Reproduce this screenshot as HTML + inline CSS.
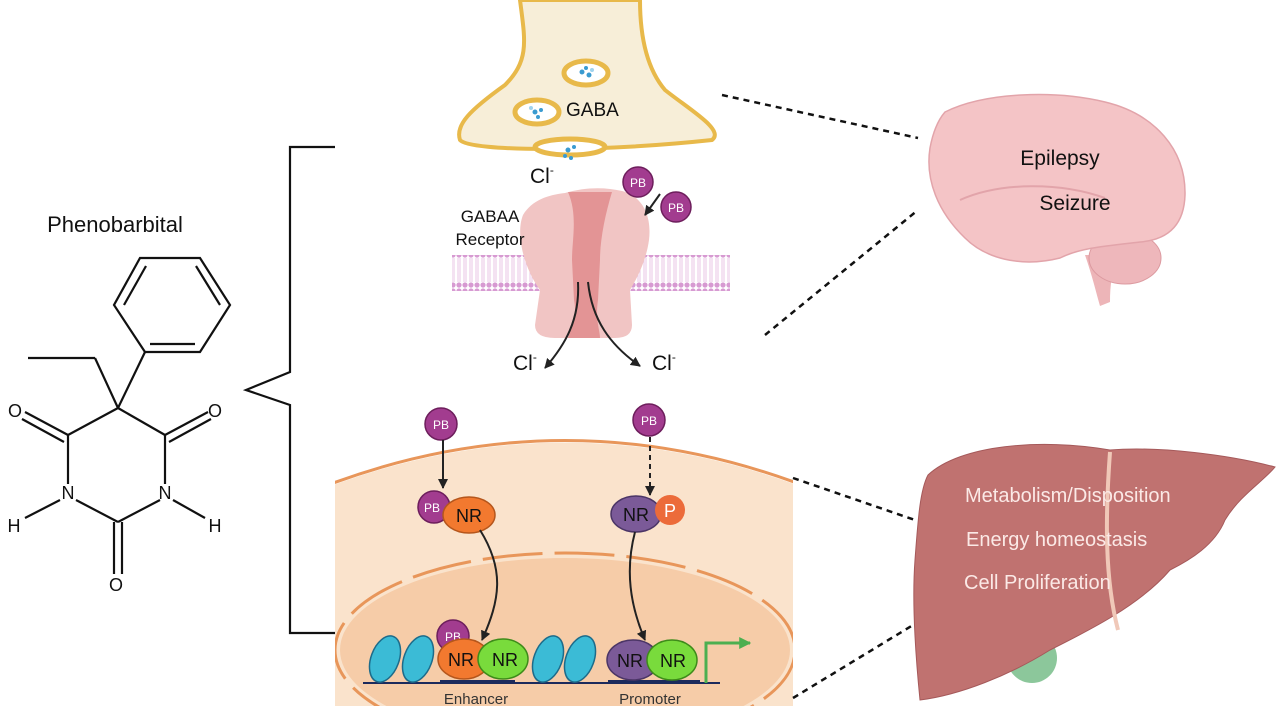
<!DOCTYPE html>
<html><head><meta charset="utf-8"><style>
html,body{margin:0;padding:0;background:#fff;overflow:hidden;width:1280px;height:706px;}
svg{display:block;font-family:"Liberation Sans",sans-serif;}
</style></head><body>
<svg width="1280" height="706" viewBox="0 0 1280 706" xmlns="http://www.w3.org/2000/svg">
<defs>
<marker id="ah" viewBox="0 0 10 10" refX="9" refY="5" markerWidth="5" markerHeight="5" orient="auto"><path d="M0,0 L10,5 L0,10 z" fill="#222"/></marker>
<marker id="ahg" viewBox="0 0 10 10" refX="9" refY="5" markerWidth="4" markerHeight="4" orient="auto"><path d="M0,0 L10,5 L0,10 z" fill="#4caf50"/></marker>
<pattern id="mem" width="6" height="36" patternUnits="userSpaceOnUse">
<circle cx="3" cy="3" r="2.6" fill="#d79ad2"/><circle cx="3" cy="33" r="2.6" fill="#d79ad2"/>
<line x1="2" y1="6" x2="2" y2="30" stroke="#e3b5df" stroke-width="0.8"/><line x1="4" y1="6" x2="4" y2="30" stroke="#e3b5df" stroke-width="0.8"/>
</pattern>
<clipPath id="cell"><rect x="335" y="430" width="458" height="276"/></clipPath>
</defs>

<!-- Phenobarbital -->
<text x="115" y="232" font-size="22" text-anchor="middle" fill="#111">Phenobarbital</text>
<g stroke="#111" stroke-width="2.2" fill="none">
<polygon points="145,352 114,305 140,258 200,258 230,305 200,352"/>
<line x1="150" y1="344" x2="195" y2="344"/><line x1="124" y1="305" x2="146" y2="266"/><line x1="220" y1="305" x2="196" y2="266"/>
<line x1="145" y1="352" x2="118" y2="408"/>
<line x1="118" y1="408" x2="95" y2="358"/><line x1="95" y1="358" x2="28" y2="358"/>
<line x1="118" y1="408" x2="165" y2="435"/><line x1="165" y1="435" x2="165" y2="484"/>
<line x1="160" y1="500" x2="118" y2="522"/><line x1="118" y1="522" x2="76" y2="500"/>
<line x1="68" y1="484" x2="68" y2="435"/><line x1="68" y1="435" x2="118" y2="408"/>
<line x1="165" y1="435" x2="208" y2="412"/><line x1="169" y1="442" x2="211" y2="419"/>
<line x1="68" y1="435" x2="25" y2="412"/><line x1="64" y1="442" x2="22" y2="419"/>
<line x1="114" y1="522" x2="114" y2="574"/><line x1="122" y1="522" x2="122" y2="574"/>
<line x1="60" y1="500" x2="25" y2="518"/><line x1="173" y1="500" x2="205" y2="518"/>
</g>
<g font-size="18" fill="#111" text-anchor="middle">
<text x="68" y="499">N</text><text x="165" y="499">N</text>
<text x="15" y="417">O</text><text x="215" y="417">O</text><text x="116" y="591">O</text>
<text x="14" y="532">H</text><text x="215" y="532">H</text>
</g>

<!-- bracket -->
<polyline points="335,147 290,147 290,372 246,390 290,405 290,633 335,633" fill="none" stroke="#111" stroke-width="2.2"/>

<!-- presynaptic terminal -->
<path d="M520,0 C525,40 530,60 505,85 C470,110 455,125 460,140 C470,152 600,152 712,140 C725,130 690,110 665,90 C648,70 640,40 640,0 Z" fill="#f7eed8" stroke="#e8b94a" stroke-width="4"/>
<ellipse cx="586" cy="73" rx="22" ry="12" fill="#fff" stroke="#e8b94a" stroke-width="5"/>
<ellipse cx="537" cy="112" rx="22" ry="12" fill="#fff" stroke="#e8b94a" stroke-width="5"/>
<ellipse cx="570" cy="147" rx="35" ry="8" fill="#fff" stroke="#e8b94a" stroke-width="5"/>
<g fill="#3a9bd0"><circle cx="582" cy="72" r="2.5"/><circle cx="589" cy="75" r="2.5"/><circle cx="586" cy="68" r="2"/><circle cx="592" cy="70" r="2" fill="#9fd3ee"/><circle cx="535" cy="112" r="2.5"/><circle cx="541" cy="110" r="2"/><circle cx="538" cy="117" r="2"/><circle cx="531" cy="108" r="2" fill="#9fd3ee"/><circle cx="568" cy="150" r="2.5"/><circle cx="574" cy="147" r="2"/><circle cx="565" cy="156" r="2"/><circle cx="571" cy="158" r="2"/></g>
<text x="566" y="116" font-size="19" fill="#111">GABA</text>

<!-- membrane -->
<rect x="452" y="255" width="278" height="36" fill="url(#mem)"/>
<!-- receptor -->
<path d="M565,193 C585,187 605,187 622,191 C642,196 652,215 649,240 C646,262 636,280 630,290 L632,325 Q632,338 615,338 L555,338 Q535,338 535,325 L540,290 C525,270 515,235 523,215 C532,200 548,195 565,193 Z" fill="#f1c5c4"/>
<path d="M568,192 L612,192 C605,215 600,240 600,260 L598,300 C595,320 600,330 600,338 L568,338 C570,330 578,320 574,300 L572,260 C572,240 578,215 568,192 Z" fill="#e39495"/>
<text x="530" y="183" font-size="21" fill="#111">Cl<tspan font-size="12" dy="-9">-</tspan></text>
<text x="490" y="222" font-size="17" fill="#111" text-anchor="middle">GABAA</text>
<text x="490" y="245" font-size="17" fill="#111" text-anchor="middle">Receptor</text>
<circle cx="638" cy="182" r="15" fill="#a23c8f" stroke="#6d1e5c" stroke-width="1.5"/><text x="638" y="187" font-size="12" fill="#fff" text-anchor="middle">PB</text>
<circle cx="676" cy="207" r="15" fill="#a23c8f" stroke="#6d1e5c" stroke-width="1.5"/><text x="676" y="212" font-size="12" fill="#fff" text-anchor="middle">PB</text>
<line x1="660" y1="194" x2="645" y2="215" stroke="#222" stroke-width="2" marker-end="url(#ah)"/>
<path d="M578,282 C580,320 565,345 545,368" fill="none" stroke="#222" stroke-width="2" marker-end="url(#ah)"/>
<path d="M588,282 C592,320 610,345 640,366" fill="none" stroke="#222" stroke-width="2" marker-end="url(#ah)"/>
<text x="513" y="370" font-size="21" fill="#111">Cl<tspan font-size="12" dy="-9">-</tspan></text>
<text x="652" y="370" font-size="21" fill="#111">Cl<tspan font-size="12" dy="-9">-</tspan></text>

<!-- cell -->
<g clip-path="url(#cell)">
<path d="M320,490 Q565,395 810,490 L810,706 L320,706 Z" fill="#fae3cc"/>
<path d="M320,488 Q565,393 810,488" fill="none" stroke="#e8965a" stroke-width="3"/>
<ellipse cx="565" cy="650" rx="225" ry="92" fill="#f6cca8"/>
<ellipse cx="565" cy="650" rx="230" ry="97" fill="none" stroke="#e8965a" stroke-width="3" stroke-dasharray="60,12"/>
</g>
<circle cx="441" cy="424" r="16" fill="#a23c8f" stroke="#6d1e5c" stroke-width="1.5"/><text x="441" y="429" font-size="12" fill="#fff" text-anchor="middle">PB</text>
<line x1="443" y1="440" x2="443" y2="488" stroke="#222" stroke-width="2" marker-end="url(#ah)"/>
<circle cx="434" cy="507" r="16" fill="#a23c8f" stroke="#6d1e5c" stroke-width="1.5"/><text x="432" y="512" font-size="12" fill="#fff" text-anchor="middle">PB</text>
<ellipse cx="469" cy="515" rx="26" ry="18" fill="#f2792f" stroke="#b5561c" stroke-width="1.5"/><text x="469" y="522" font-size="18" fill="#111" text-anchor="middle">NR</text>
<path d="M480,530 C505,570 500,600 482,640" fill="none" stroke="#222" stroke-width="2" marker-end="url(#ah)"/>
<circle cx="649" cy="420" r="16" fill="#a23c8f" stroke="#6d1e5c" stroke-width="1.5"/><text x="649" y="425" font-size="12" fill="#fff" text-anchor="middle">PB</text>
<line x1="650" y1="437" x2="650" y2="495" stroke="#222" stroke-width="2" stroke-dasharray="5,4" marker-end="url(#ah)"/>
<ellipse cx="636" cy="514" rx="25" ry="18" fill="#7b5a98" stroke="#4b3566" stroke-width="1.5"/><text x="636" y="521" font-size="18" fill="#111" text-anchor="middle">NR</text>
<circle cx="670" cy="510" r="15" fill="#ec6b3a"/><text x="670" y="517" font-size="18" fill="#fff" text-anchor="middle">P</text>
<path d="M635,532 C625,570 630,605 645,640" fill="none" stroke="#222" stroke-width="2" marker-end="url(#ah)"/>
<polyline points="363,683 720,683" stroke="#1c2a5c" stroke-width="2" fill="none"/>
<line x1="440" y1="682" x2="515" y2="682" stroke="#1c2a5c" stroke-width="4"/>
<line x1="608" y1="682" x2="700" y2="682" stroke="#1c2a5c" stroke-width="4"/>
<g fill="#3bbbd6" stroke="#1d6b8a" stroke-width="1.5">
<ellipse cx="385" cy="659" rx="14" ry="24" transform="rotate(20 385 659)"/>
<ellipse cx="418" cy="659" rx="14" ry="24" transform="rotate(20 418 659)"/>
<ellipse cx="548" cy="659" rx="14" ry="24" transform="rotate(20 548 659)"/>
<ellipse cx="580" cy="659" rx="14" ry="24" transform="rotate(20 580 659)"/>
</g>
<circle cx="453" cy="636" r="16" fill="#a23c8f" stroke="#6d1e5c" stroke-width="1.5"/><text x="453" y="641" font-size="12" fill="#fff" text-anchor="middle">PB</text>
<ellipse cx="464" cy="659" rx="26" ry="20" fill="#f2792f" stroke="#b5561c" stroke-width="1.5"/><text x="461" y="666" font-size="18" fill="#111" text-anchor="middle">NR</text>
<ellipse cx="503" cy="659" rx="25" ry="20" fill="#79db3c" stroke="#3e8b1a" stroke-width="1.5"/><text x="505" y="666" font-size="18" fill="#111" text-anchor="middle">NR</text>
<ellipse cx="633" cy="660" rx="26" ry="20" fill="#7b5a98" stroke="#4b3566" stroke-width="1.5"/><text x="630" y="667" font-size="18" fill="#111" text-anchor="middle">NR</text>
<ellipse cx="672" cy="660" rx="25" ry="20" fill="#79db3c" stroke="#3e8b1a" stroke-width="1.5"/><text x="673" y="667" font-size="18" fill="#111" text-anchor="middle">NR</text>
<polyline points="706,683 706,643 750,643" fill="none" stroke="#4caf50" stroke-width="3" marker-end="url(#ahg)"/>
<text x="476" y="704" font-size="15" fill="#333" text-anchor="middle">Enhancer</text>
<text x="650" y="704" font-size="15" fill="#333" text-anchor="middle">Promoter</text>

<!-- dotted connectors -->
<g stroke="#111" stroke-width="2.5" stroke-dasharray="6,5">
<line x1="722" y1="95" x2="918" y2="138"/>
<line x1="765" y1="335" x2="918" y2="210"/>
<line x1="793" y1="478" x2="915" y2="520"/>
<line x1="793" y1="698" x2="918" y2="622"/>
</g>

<!-- brain -->
<path d="M1085,255 C1092,275 1096,292 1100,306 L1110,302 C1110,285 1112,270 1118,255 Z" fill="#edb5b8"/>
<ellipse cx="1125" cy="258" rx="36" ry="26" fill="#eeb7bb" stroke="#dc9aa0"/>
<path d="M945,112 C985,92 1055,90 1105,102 C1155,114 1186,150 1185,195 C1184,228 1165,240 1140,242 C1105,246 1080,248 1060,258 C1020,268 985,258 965,238 C938,212 925,180 930,148 C933,132 938,120 945,112 Z" fill="#f4c4c6" stroke="#e2a4aa" stroke-width="1.5"/>
<path d="M960,200 C1000,182 1060,182 1105,198" fill="none" stroke="#e2a4aa" stroke-width="2"/>
<text x="1060" y="165" font-size="21" fill="#111" text-anchor="middle">Epilepsy</text>
<text x="1075" y="210" font-size="21" fill="#111" text-anchor="middle">Seizure</text>

<!-- liver -->
<circle cx="1032" cy="658" r="25" fill="#8cc79b"/>
<path d="M928,475 C960,445 1040,438 1110,450 C1160,446 1230,455 1275,467 C1265,480 1240,495 1225,520 C1215,545 1190,560 1170,570 C1140,605 1090,630 1050,650 C1010,675 960,695 920,700 C915,650 912,600 915,560 C918,520 920,490 928,475 Z" fill="#c07270" stroke="#a5595a" stroke-width="1"/>
<path d="M1110,452 C1105,520 1105,580 1118,630" fill="none" stroke="#f0c8b8" stroke-width="4"/>
<g font-size="20" fill="#fbe9e6">
<text x="965" y="502">Metabolism/Disposition</text>
<text x="966" y="546">Energy homeostasis</text>
<text x="964" y="589">Cell Proliferation</text>
</g>
</svg>
</body></html>
